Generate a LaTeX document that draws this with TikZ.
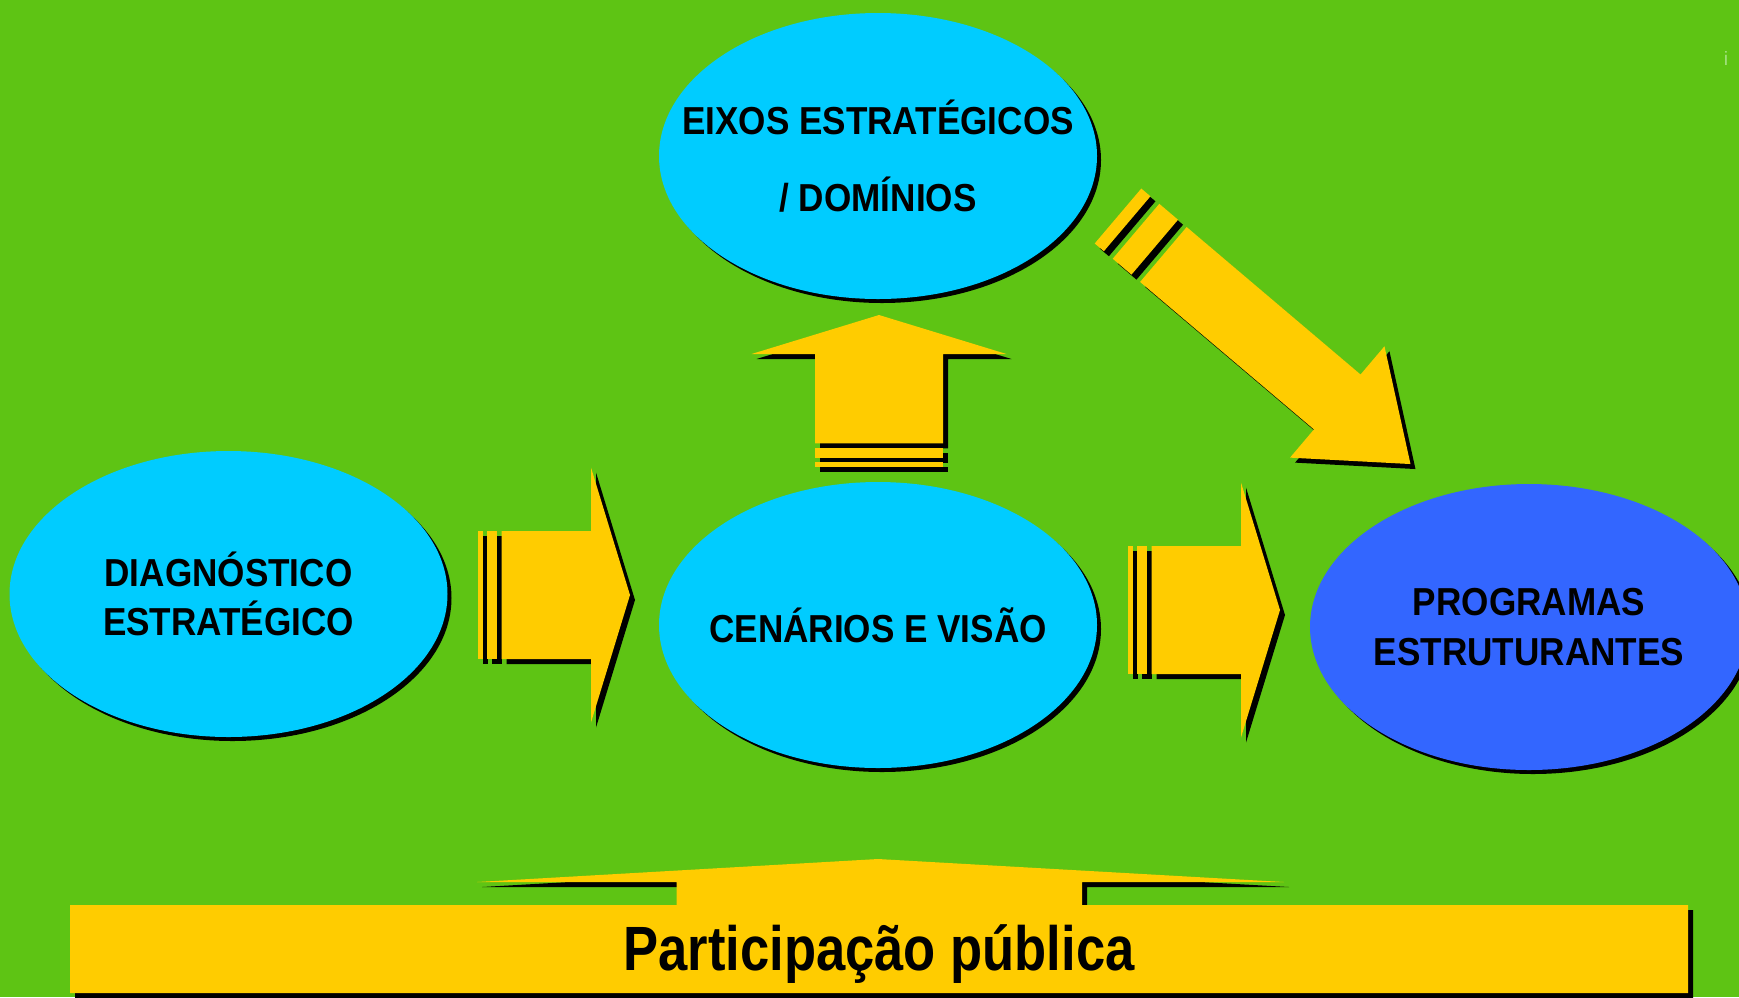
\documentclass[tikz,border=0pt]{standalone}
\usepackage{color}
\usepackage{fontspec}
\usepackage{tikz}
\usetikzlibrary{shapes.geometric,shadows,calc}

\newfontfamily\labelfont[FakeStretch=0.90]{Liberation Sans}
\newfontfamily\bannerfont[FakeStretch=0.84]{Liberation Sans}

\definecolor{bggreen}{RGB}{94,196,20}
\definecolor{bubblecyan}{RGB}{0,204,255}
\definecolor{bubbleblue}{RGB}{51,102,255}
\definecolor{arrowyellow}{RGB}{255,204,0}
\definecolor{markgreen}{RGB}{170,228,140}

\begin{document}
\begin{tikzpicture}[
	x = 0.1mm,
	y = -0.1mm,
	bubble/.style = {ellipse, fill=bubblecyan, inner ysep=0pt, inner xsep=-5mm,
		minimum width=43.8mm, minimum height=28.6mm, align=center,
		font=\labelfont\bfseries\fontsize{11.1}{14}\selectfont,
		drop shadow={shadow xshift=0.4mm, shadow yshift=-0.4mm, opacity=1, fill=black}},
	banner/.style = {font=\bannerfont\bfseries\fontsize{17.8}{20}\selectfont, inner sep=0pt},
	stripedarrow/.pic = {
		\fill (0,-64) rectangle (5,64);
		\fill (9,-64) rectangle (19,64);
		\fill (23.7,-64) -- (113,-64) -- (113,-127.5) -- (152,0) -- (113,127.5) -- (113,64) -- (23.7,64) -- cycle;
	},
	diagarrow/.pic = {
		\fill (0,-36) rectangle (12,36);
		\fill (23.6,-36) rectangle (48.2,36);
		\fill (59.5,-36) -- (287.5,-36) -- (287.5,-73) -- (383.5,0) -- (287.5,73) -- (287.5,36) -- (59.5,36) -- cycle;
	}
	]

	\fill[bggreen] (0,0) rectangle (1739,997);
	\useasboundingbox (0,0) rectangle (1739,997);

	\node[bubble] (eixos) at (878,156) {EIXOS ESTRATÉGICOS\\[8pt] / DOMÍNIOS};
	\node[bubble] (diag) at (228.5,594) {DIAGNÓSTICO\\ESTRATÉGICO};
	\node[bubble] (cen) at (878,625) {CENÁRIOS E VISÃO};
	\node[bubble, fill=bubbleblue] (prog) at (1529,627) {PROGRAMAS\\ESTRUTURANTES};

	% tails of the block arrows
	\coordinate (a1) at (478,595);
	\coordinate (a2) at (1128,610);
	\coordinate (a3) at (879,467);
	\coordinate (a4) at (1118,216);

	\pic[black] at ($(a1)+(5,5)$) {stripedarrow};
	\pic[arrowyellow] at (a1) {stripedarrow};
	\pic[black] at ($(a2)+(5,5)$) {stripedarrow};
	\pic[arrowyellow] at (a2) {stripedarrow};
	\pic[black, rotate=90] at ($(a3)+(5,5)$) {stripedarrow};
	\pic[arrowyellow, rotate=90] at (a3) {stripedarrow};
	\pic[black, rotate=-40.3] at ($(a4)+(5,5)$) {diagarrow};
	\pic[arrowyellow, rotate=-40.3] at (a4) {diagarrow};

	% participation box with its arrow tab
	\fill[arrowyellow, drop shadow={shadow xshift=0.5mm, shadow yshift=-0.5mm, opacity=1, fill=black}]
		(70,905) -- (676.5,905) -- (676.5,882) -- (477,882) -- (878,859) -- (1284,882)
		-- (1082,882) -- (1082,905) -- (1688,905) -- (1688,993) -- (70,993) -- cycle;
	\node[banner] (part) at (879,954) {Participação pública};

	\node[font=\labelfont\fontsize{5.5}{6}\selectfont, text=markgreen, inner sep=0pt] (mark) at (1726,58) {i};
\end{tikzpicture}
\end{document}
